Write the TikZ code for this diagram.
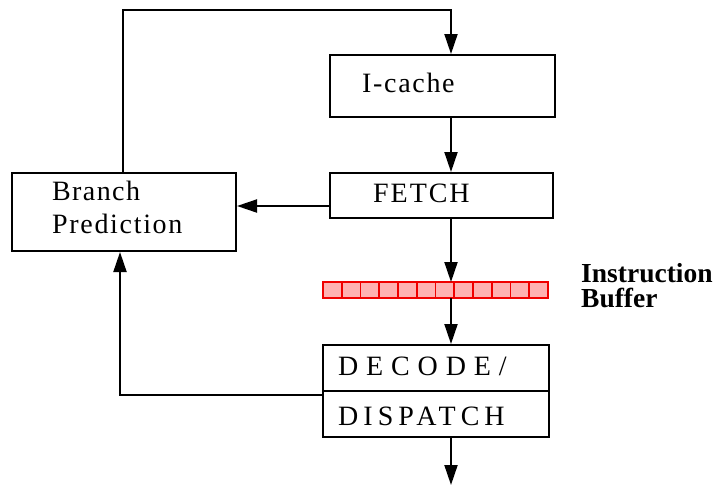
\documentclass[tikz,border=0pt]{standalone}
\usepackage{fontspec}
\setmainfont{Liberation Serif}
\newfontfamily\lsA[LetterSpace=6]{Liberation Serif}
\newfontfamily\lsB[LetterSpace=7]{Liberation Serif}
\newfontfamily\lsC[LetterSpace=28]{Liberation Serif}
\newfontfamily\lsD[LetterSpace=18]{Liberation Serif}
\newfontfamily\lsE[LetterSpace=5]{Liberation Serif}
\usetikzlibrary{arrows.meta}
\definecolor{bufred}{RGB}{240,0,0}
\definecolor{buffill}{RGB}{255,178,178}
\tikzset{
  box/.style={draw, line width=2pt, rectangle, inner sep=0pt},
  lbl/.style={anchor=base west, inner sep=0pt, font=\fontsize{28}{32}\selectfont},
  boldlbl/.style={anchor=base west, inner sep=0pt, font=\fontsize{27.5}{31}\selectfont\bfseries},
  arr/.style={line width=2pt, -{Triangle[length=20pt,width=13pt]}},
  wire/.style={line width=2pt},
  cell/.style={draw=bufred, fill=buffill, line width=1.6pt, rectangle, inner sep=0pt,
    minimum width=18.75pt, minimum height=16pt}
}
\begin{document}
\begin{tikzpicture}[x=1pt, y=-1pt]
\useasboundingbox (0,0) rectangle (720,485);

% pipeline blocks
\node[box, minimum width=225pt, minimum height=62pt] (icache) at (442.5,86) {};
\node[box, minimum width=223pt, minimum height=45pt] (fetch) at (441.5,195.5) {};
\node[box, minimum width=224pt, minimum height=78pt] (bp) at (124,212) {};
\node[box, minimum width=226pt, minimum height=92pt] (dec) at (436,391) {};
\draw[wire] (dec.west) -- (dec.east);

% instruction buffer slots
\foreach \i in {0,...,11} {
  \node[cell] (c\i) at ({323+9.375+18.75*\i},290) {};
}
\coordinate (buftop) at (451,282);
\coordinate (bufbot) at (451,298);

% labels
\node[lbl] (ticache) at (362,92) {\lsA I-cache};
\node[lbl] (tfetch) at (373,202) {\lsB FETCH};
\node[lbl] (tbr) at (52,200) {\lsE Branch};
\node[lbl] (tpred) at (52,233) {\lsA Prediction};
\node[lbl] (tdec) at (338,375) {\lsC DECODE/};
\node[lbl] (tdis) at (338,425) {\lsD DISPATCH};
\node[boldlbl] (tins) at (581,282) {Instruction};
\node[boldlbl] (tbuf) at (581,307) {Buffer};

% connectors
\coordinate (spine) at (451,0);
\coordinate (loopL) at (123,10);
\coordinate (loopR) at (451,10);
\coordinate (fbL) at (120,395);
\coordinate (side) at (0,206);
\coordinate (out) at (451,485);

\draw[arr] (bp.north -| loopL) -- (loopL) -- (loopR) -- (icache.north -| spine);
\draw[arr] (icache.south -| spine) -- (fetch.north -| spine);
\draw[arr] (fetch.west |- side) -- (bp.east |- side);
\draw[arr] (fetch.south -| spine) -- (buftop);
\draw[arr] (bufbot) -- (dec.north -| spine);
\draw[arr] (dec.west |- fbL) -- (fbL) -- (bp.south -| fbL);
\draw[arr] (dec.south -| spine) -- (out);
\end{tikzpicture}
\end{document}
